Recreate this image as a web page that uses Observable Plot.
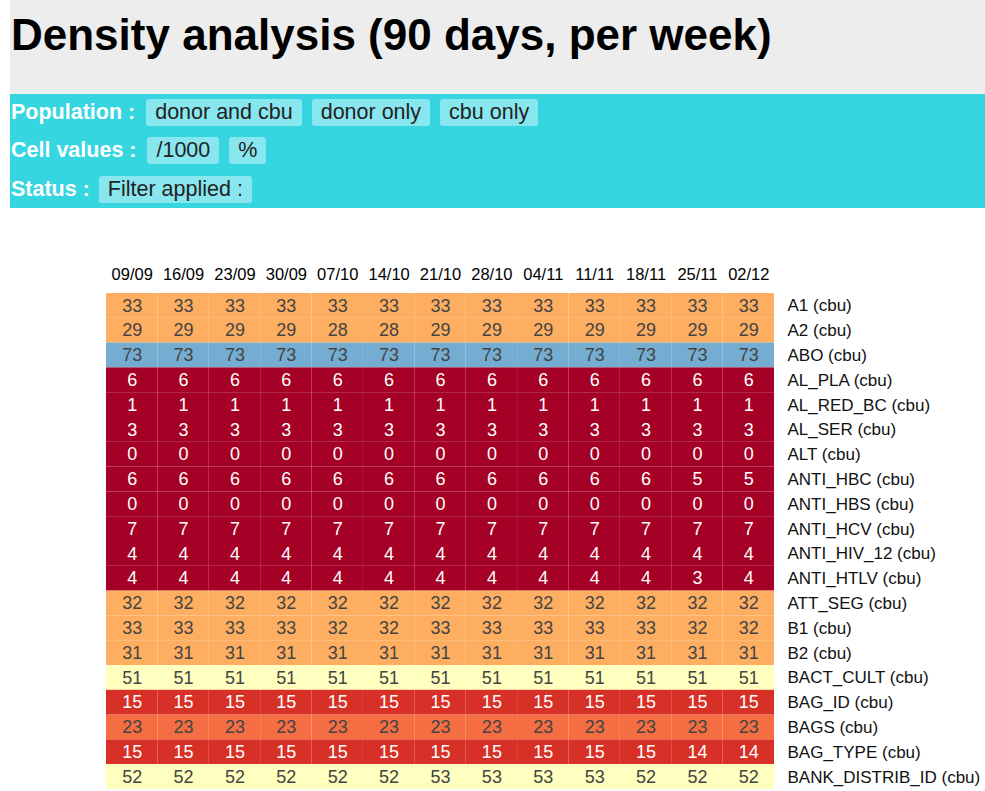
<!DOCTYPE html>
<html>
<head>
<meta charset="utf-8">
<script src="https://cdn.jsdelivr.net/npm/d3@7"></script>
<script src="https://cdn.jsdelivr.net/npm/@observablehq/plot@0.6"></script>
<style>
  body { margin: 0; background: #fff; font-family: "Liberation Sans", Arial, sans-serif; width: 985px; height: 791px; overflow: hidden; position: relative; }
  #head { position: absolute; left: 10px; top: 0; width: 975px; height: 94px; background: #ededed; }
  #title { position: absolute; left: 1px; top: 13px; font-size: 44px; line-height: 44px; font-weight: bold; color: #000; white-space: nowrap; }
  #controls { position: absolute; left: 10px; top: 94px; width: 975px; height: 114px; background: #36d6e0; }
  .row { position: absolute; left: 1px; height: 27px; display: flex; align-items: center; white-space: nowrap; }
  .lab { color: #fff; font-weight: bold; font-size: 21.5px; margin-right: 11px; }
  .btn { background: #88e6ee; color: #222; font-size: 21.5px; height: 27px; line-height: 27px; padding: 0 9px; border-radius: 3px; margin-right: 10px; }
  #chart { position: absolute; left: 0; top: 208px; }
</style>
</head>
<body>
<div id="head"><div id="title">Density analysis (90 days, per week)</div></div>
<div id="controls">
  <div class="row" style="top:5px"><span class="lab">Population :</span><span class="btn">donor and cbu</span><span class="btn">donor only</span><span class="btn">cbu only</span></div>
  <div class="row" style="top:43px"><span class="lab">Cell values :</span><span class="btn">/1000</span><span class="btn">%</span></div>
  <div class="row" style="top:82px"><span class="lab" style="margin-right:9px">Status :</span><span class="btn">Filter applied :</span></div>
</div>
<div id="chart"></div>
<script>
const dates = ["09/09","16/09","23/09","30/09","07/10","14/10","21/10","28/10","04/11","11/11","18/11","25/11","02/12"];

const rows = ["A1 (cbu)","A2 (cbu)","ABO (cbu)","AL_PLA (cbu)","AL_RED_BC (cbu)","AL_SER (cbu)","ALT (cbu)",
  "ANTI_HBC (cbu)","ANTI_HBS (cbu)","ANTI_HCV (cbu)","ANTI_HIV_12 (cbu)","ANTI_HTLV (cbu)","ATT_SEG (cbu)",
  "B1 (cbu)","B2 (cbu)","BACT_CULT (cbu)","BAG_ID (cbu)","BAGS (cbu)","BAG_TYPE (cbu)","BANK_DISTRIB_ID (cbu)"];

const a1            = [33,33,33,33,33,33,33,33,33,33,33,33,33];
const a2            = [29,29,29,29,28,28,29,29,29,29,29,29,29];
const abo           = [73,73,73,73,73,73,73,73,73,73,73,73,73];
const alPla         = [6,6,6,6,6,6,6,6,6,6,6,6,6];
const alRedBc       = [1,1,1,1,1,1,1,1,1,1,1,1,1];
const alSer         = [3,3,3,3,3,3,3,3,3,3,3,3,3];
const alt           = [0,0,0,0,0,0,0,0,0,0,0,0,0];
const antiHbc       = [6,6,6,6,6,6,6,6,6,6,6,5,5];
const antiHbs       = [0,0,0,0,0,0,0,0,0,0,0,0,0];
const antiHcv       = [7,7,7,7,7,7,7,7,7,7,7,7,7];
const antiHiv12     = [4,4,4,4,4,4,4,4,4,4,4,4,4];
const antiHtlv      = [4,4,4,4,4,4,4,4,4,4,4,3,4];
const attSeg        = [32,32,32,32,32,32,32,32,32,32,32,32,32];
const b1            = [33,33,33,33,32,32,33,33,33,33,33,32,32];
const b2            = [31,31,31,31,31,31,31,31,31,31,31,31,31];
const bactCult      = [51,51,51,51,51,51,51,51,51,51,51,51,51];
const bagId         = [15,15,15,15,15,15,15,15,15,15,15,15,15];
const bags          = [23,23,23,23,23,23,23,23,23,23,23,23,23];
const bagType       = [15,15,15,15,15,15,15,15,15,15,15,14,14];
const bankDistribId = [52,52,52,52,52,52,53,53,53,53,52,52,52];

const series = [a1,a2,abo,alPla,alRedBc,alSer,alt,antiHbc,antiHbs,antiHcv,antiHiv12,antiHtlv,attSeg,
  b1,b2,bactCult,bagId,bags,bagType,bankDistribId];

const data = [];
rows.forEach((r, i) => series[i].forEach((v, j) => data.push({row: r, date: dates[j], value: v})));

// 11 equal classes over 0..100 (RdYlBu)
const thresholds = d3.range(1, 11).map(i => i * 100 / 11);
const darkLimit = thresholds[1];

const chart = Plot.plot({
  width: 985,
  height: 581,
  marginTop: 85,
  marginBottom: 0,
  marginLeft: 106,
  marginRight: 211,
  style: {fontFamily: "'Liberation Sans', Arial, sans-serif", background: "transparent", color: "#111"},
  x: {type: "band", domain: dates, padding: 0, round: false, axis: null},
  y: {type: "band", domain: rows, padding: 0, round: false, axis: null},
  color: {type: "threshold", domain: thresholds, range: d3.schemeRdYlBu[11]},
  marks: [
    Plot.cell(data, {x: "date", y: "row", fill: "value", inset: 0}),
    Plot.text(data, {x: "date", y: "row", text: d => String(d.value), filter: d => d.value < darkLimit, fill: "white", fontSize: 18}),
    Plot.text(data, {x: "date", y: "row", text: d => String(d.value), filter: d => d.value >= darkLimit, fill: "#444", fontSize: 18}),
    Plot.axisX({anchor: "top", tickSize: 0, tickPadding: 14, fontSize: 16.5, fill: "#000", label: null}),
    Plot.axisY({anchor: "right", tickSize: 0, tickPadding: 13, fontSize: 17, fill: "#111", label: null})
  ]
});
document.getElementById("chart").appendChild(chart);
</script>
</body>
</html>
